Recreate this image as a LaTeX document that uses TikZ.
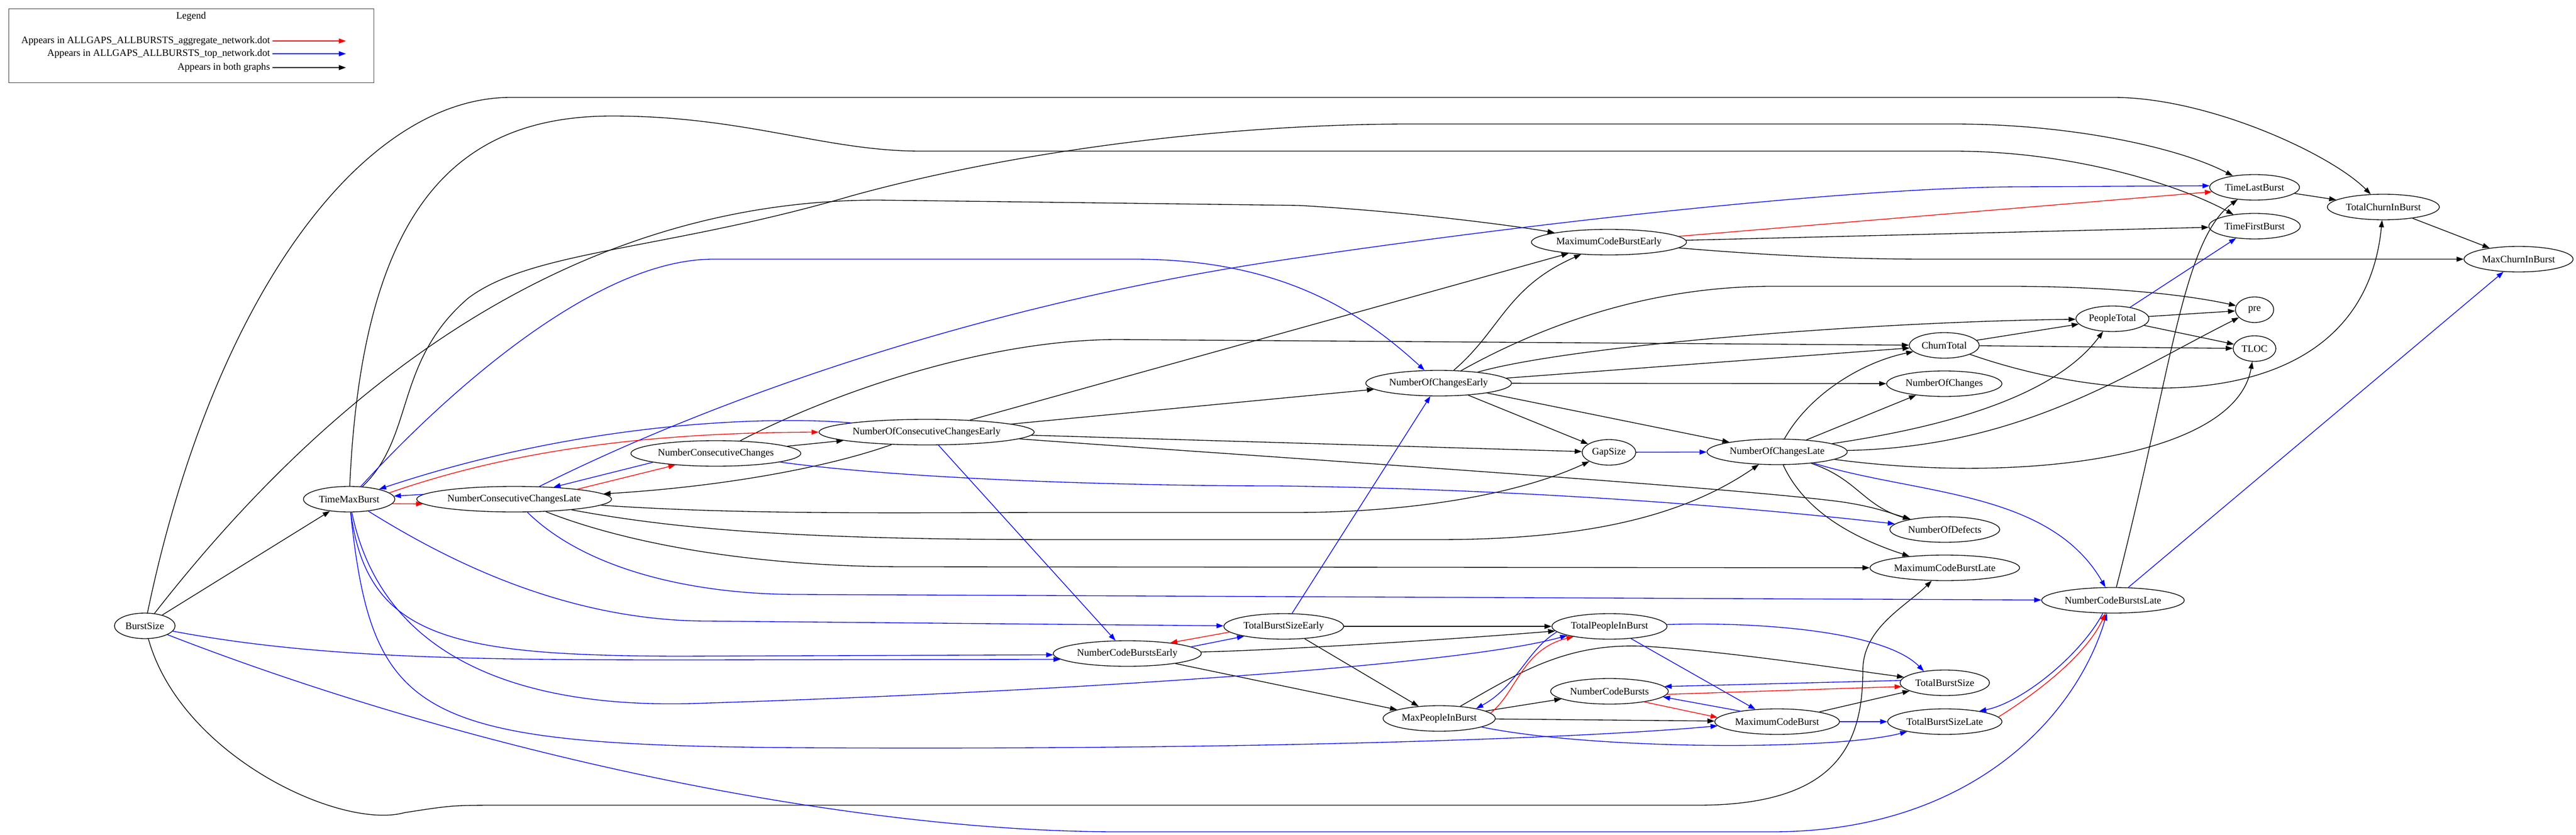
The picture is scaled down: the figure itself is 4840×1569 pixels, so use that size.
\documentclass[tikz,border=0pt]{standalone}
\usepackage{fontspec}
\setmainfont{Liberation Serif}
\usetikzlibrary{arrows.meta,shapes.geometric}

\begin{document}
\begin{tikzpicture}[x=0.75pt,y=-0.75pt,
    vnode/.style={draw,ellipse,line width=1pt,minimum height=36pt,minimum width=54pt,
      inner xsep=3pt,inner ysep=0pt,font=\fontsize{14pt}{16pt}\selectfont},
    lgtext/.style={anchor=east,font=\fontsize{14pt}{16pt}\selectfont},
    inboth/.style={line width=1pt,black,-{Triangle[length=10pt,width=7pt]}},
    intop/.style={inboth,blue},
    inaggr/.style={inboth,red}]
  \path[use as bounding box,fill=white] (0,0) rectangle (4840,1569);
  % legend box
  \node[draw=black!75,line width=1pt,minimum width=514.5pt,minimum height=104.25pt,
    anchor=north west,inner sep=0pt] (legend) at (16,16) {};
  \node[font=\fontsize{14pt}{16pt}\selectfont] (legendtitle) at (359,31) {Legend};
  \node[lgtext] (lgaggr) at (512,77) {Appears in ALLGAPS\_ALLBURSTS\_aggregate\_network.dot};
  \node[lgtext] (lgtop) at (512,101) {Appears in ALLGAPS\_ALLBURSTS\_top\_network.dot};
  \node[lgtext] (lgboth) at (512,127) {Appears in both graphs};
  \coordinate (lgaggrend) at (650,77);
  \coordinate (lgtopend) at (650,101);
  \coordinate (lgbothend) at (650,127);
  \draw[inaggr] (lgaggr) -- (lgaggrend);
  \draw[intop] (lgtop) -- (lgtopend);
  \draw[inboth] (lgboth) -- (lgbothend);
  % variables, left part
  \node[vnode] (bs) at (272,1176) {BurstSize};
  \node[vnode] (tmb) at (656,938) {TimeMaxBurst};
  \node[vnode] (ncl) at (966,938) {NumberConsecutiveChangesLate};
  \node[vnode] (ncc) at (1345,852) {NumberConsecutiveChanges};
  \node[vnode] (ncce) at (1741,812) {NumberOfConsecutiveChangesEarly};
  \node[vnode] (ncbe) at (2118,1228) {NumberCodeBurstsEarly};
  \node[vnode] (tbse) at (2412,1177) {TotalBurstSizeEarly};
  % variables, middle part
  \node[vnode] (noce) at (2703,720) {NumberOfChangesEarly};
  \node[vnode] (mcbe) at (3023,455) {MaximumCodeBurstEarly};
  \node[vnode] (gs) at (3023,850) {GapSize};
  \node[vnode] (nocl) at (3339,849) {NumberOfChangesLate};
  \node[vnode] (tpib) at (3024,1177) {TotalPeopleInBurst};
  \node[vnode] (ncb) at (3024,1299) {NumberCodeBursts};
  \node[vnode] (mpib) at (2704,1350) {MaxPeopleInBurst};
  \node[vnode] (mcb) at (3339,1356) {MaximumCodeBurst};
  % variables, right part
  \node[vnode] (ct) at (3653,649) {ChurnTotal};
  \node[vnode] (noc) at (3653,721) {NumberOfChanges};
  \node[vnode] (pt) at (3969,599) {PeopleTotal};
  \node[vnode] (pre) at (4236,582) {pre};
  \node[vnode] (tloc) at (4236,655) {TLOC};
  \node[vnode] (tlb) at (4236,352) {TimeLastBurst};
  \node[vnode] (tfb) at (4236,425) {TimeFirstBurst};
  \node[vnode] (tcib) at (4478,389) {TotalChurnInBurst};
  \node[vnode] (mcib) at (4732,487) {MaxChurnInBurst};
  \node[vnode] (nod) at (3654,995) {NumberOfDefects};
  \node[vnode] (mcbl) at (3654,1067) {MaximumCodeBurstLate};
  \node[vnode] (ncbl) at (3970,1128) {NumberCodeBurstsLate};
  \node[vnode] (tbs) at (3654,1283) {TotalBurstSize};
  \node[vnode] (tbsl) at (3654,1356) {TotalBurstSizeLate};
  % edges in both graphs
  \draw[inboth] (bs) -- (tmb);
  \draw[inboth] (bs) .. controls (400,560) and (680,183) .. (960,183) -- (3970,183) .. controls (4150,183) and (4380,290) .. (tcib);
  \draw[inboth] (bs) .. controls (550,820) and (1000,376) .. (1650,376) -- (2440,386) .. controls (2650,398) and (2850,425) .. (mcbe);
  \draw[inboth] (bs) .. controls (340,1420) and (640,1560) .. (760,1527) .. controls (850,1513) .. (950,1513) -- (3190,1513) .. controls (3450,1513) and (3500,1400) .. (3500,1260) .. controls (3500,1180) and (3580,1140) .. (mcbl);
  \draw[inboth] (tmb) .. controls (680,400) and (850,218) .. (1150,218) .. controls (1400,218) and (1550,284) .. (1730,284) -- (3670,284) .. controls (3900,284) and (4100,350) .. (tfb);
  \draw[inboth] (tmb) .. controls (780,820) and (740,680) .. (880,560) .. controls (1000,470) and (1250,470) .. (1600,368) .. controls (1900,285) and (2300,233) .. (2650,233) -- (3670,233) .. controls (3900,233) and (4100,280) .. (tlb);
  \draw[inboth] (ncc) -- (ncce);
  \draw[inboth] (ncc) .. controls (1560,740) and (1850,638) .. (2100,638) -- (ct);
  \draw[inboth] (ncce) .. controls (1550,880) and (1350,915) .. (ncl);
  \draw[inboth] (ncce) -- (mcbe);
  \draw[inboth] (ncce) -- (noce);
  \draw[inboth] (ncce) -- (gs);
  \draw[inboth] (ncce) .. controls (2400,860) and (3250,915) .. (3460,943) .. controls (3520,952) and (3545,962) .. (nod);
  \draw[inboth] (ncl) .. controls (1400,968) and (1700,963) .. (2000,963) -- (2430,963) .. controls (2650,963) and (2850,930) .. (gs);
  \draw[inboth] (ncl) .. controls (1300,1000) and (1550,1014) .. (2000,1014) -- (2700,1014) .. controls (2950,1014) and (3150,980) .. (nocl);
  \draw[inboth] (ncl) .. controls (1200,1030) and (1450,1065) .. (1700,1065) -- (mcbl);
  \draw[inboth] (noce) .. controls (2820,620) and (2830,540) .. (mcbe);
  \draw[inboth] (noce) .. controls (2900,610) and (3100,538) .. (3330,538) -- (3775,538) .. controls (3950,538) and (4100,552) .. (pre);
  \draw[inboth] (noce) .. controls (2950,650) and (3500,605) .. (pt);
  \draw[inboth] (noce) -- (ct);
  \draw[inboth] (noce) -- (noc);
  \draw[inboth] (noce) -- (nocl);
  \draw[inboth] (noce) -- (gs);
  \draw[inboth] (mcbe) -- (tfb);
  \draw[inboth] (mcbe) .. controls (3300,478) and (3450,487) .. (3620,487) -- (mcib);
  \draw[inboth] (tlb) -- (tcib);
  \draw[inboth] (tcib) -- (mcib);
  \draw[inboth] (pt) -- (pre);
  \draw[inboth] (pt) -- (tloc);
  \draw[inboth] (ct) -- (pt);
  \draw[inboth] (ct) -- (tloc);
  \draw[inboth] (ct) .. controls (4000,770) and (4440,780) .. (tcib);
  \draw[inboth] (nocl) .. controls (3400,740) and (3500,680) .. (ct);
  \draw[inboth] (nocl) -- (noc);
  \draw[inboth] (nocl) .. controls (3600,810) and (3850,760) .. (pt);
  \draw[inboth] (nocl) .. controls (3800,840) and (4000,700) .. (pre);
  \draw[inboth] (nocl) .. controls (3800,910) and (4200,860) .. (tloc);
  \draw[inboth] (nocl) .. controls (3490,900) and (3500,950) .. (nod);
  \draw[inboth] (nocl) .. controls (3390,960) and (3480,1010) .. (mcbl);
  \draw[inboth] (ncbl) .. controls (4080,700) and (4100,450) .. (tlb);
  \draw[inboth] (tbse) -- (tpib);
  \draw[inboth] (ncbe) .. controls (2400,1222) and (2750,1200) .. (tpib);
  \draw[inboth] (tbse) -- (mpib);
  \draw[inboth] (ncbe) -- (mpib);
  \draw[inboth] (mpib) -- (ncb);
  \draw[inboth] (mpib) -- (mcb);
  \draw[inboth] (mpib) .. controls (2860,1260) and (2950,1205) .. (3100,1215) .. controls (3250,1225) and (3450,1255) .. (tbs);
  \draw[inboth] (mcb) -- (tbs);
  % edges in the top network
  \draw[intop] (tmb) .. controls (800,780) and (1100,487) .. (1340,487) -- (2130,487) .. controls (2400,487) and (2550,580) .. (noce);
  \draw[intop] (ncce.173) .. controls (1450,782) and (1100,790) .. (tmb);
  \draw[intop] (ncl) .. controls (1300,770) and (1800,580) .. (2400,490) .. controls (2900,415) and (3500,351) .. (3800,351) -- (tlb.178);
  \draw[intop] (ncc.188) -- (ncl.17);
  \draw[intop] (ncl.177) -- (tmb.4);
  \draw[intop] (ncc) .. controls (1700,900) and (2100,913) .. (2400,913) .. controls (2900,920) and (3300,955) .. (nod);
  \draw[intop] (ncce) -- (ncbe);
  \draw[intop] (tbse) -- (noce);
  \draw[intop] (tmb) .. controls (690,1200) and (850,1232) .. (1276,1233) -- (ncbe.181);
  \draw[intop] (bs) .. controls (600,1238) and (900,1240) .. (1300,1240) -- (ncbe.185);
  \draw[intop] (tmb) .. controls (820,1040) and (1050,1167) .. (1330,1167) -- (tbse);
  \draw[intop] (tmb) .. controls (720,1250) and (1000,1330) .. (1300,1322) .. controls (2000,1300) and (2750,1250) .. (tpib.192);
  \draw[intop] (tmb) .. controls (700,1350) and (780,1400) .. (1500,1405) .. controls (2400,1410) and (3000,1385) .. (mcb.184);
  \draw[intop] (bs) .. controls (900,1420) and (1600,1563) .. (2100,1563) -- (3330,1563) .. controls (3700,1563) and (3900,1350) .. (ncbl.245);
  \draw[intop] (ncl) .. controls (1100,1070) and (1300,1117) .. (1500,1117) -- (ncbl);
  \draw[intop] (nocl) .. controls (3600,930) and (3850,920) .. (ncbl);
  \draw[intop] (ncbl) -- (mcib);
  \draw[intop] (pt) -- (tfb);
  \draw[intop] (gs) -- (nocl);
  \draw[intop] (ncbl.232) .. controls (3910,1230) and (3800,1320) .. (tbsl.17);
  \draw[intop] (tpib.186) .. controls (2870,1220) and (2850,1290) .. (mpib.15);
  \draw[intop] (mcb.164) -- (ncb.354);
  \draw[intop] (tbs.177) -- (ncb.5);
  \draw[intop] (ncbe.6) -- (tbse.194);
  \draw[intop] (tpib) .. controls (3300,1168) and (3540,1185) .. (tbs.151);
  \draw[intop] (mcb) -- (tbsl);
  \draw[intop] (mpib) .. controls (3000,1410) and (3450,1410) .. (tbsl);
  \draw[intop] (tpib) -- (mcb);
  % edges in the aggregate network
  \draw[inaggr] (tmb.9) .. controls (950,850) and (1200,813) .. (ncce.west);
  \draw[inaggr] (tmb.354) -- (ncl.183);
  \draw[inaggr] (ncl.9) -- (ncc.196);
  \draw[inaggr] (mcbe) -- (tlb.186);
  \draw[inaggr] (tbse.186) -- (ncbe.14);
  \draw[inaggr] (mpib.6) .. controls (2850,1300) and (2860,1220) .. (tpib.196);
  \draw[inaggr] (ncb.343) -- (mcb.176);
  \draw[inaggr] (ncb.357) -- (tbs.185);
  \draw[inaggr] (tbsl.5) .. controls (3830,1300) and (3920,1230) .. (ncbl.240);
\end{tikzpicture}
\end{document}
